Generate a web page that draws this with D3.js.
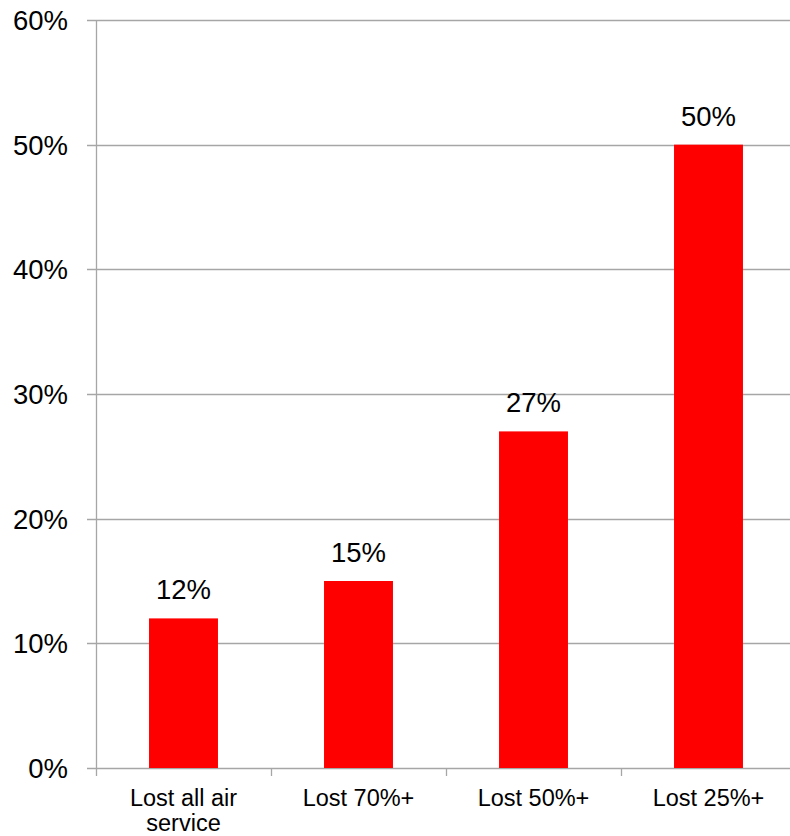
<!DOCTYPE html>
<html>
<head>
<meta charset="utf-8">
<script src="https://cdn.jsdelivr.net/npm/d3@7"></script>
<style>
  html, body { margin: 0; padding: 0; background: #fff; }
  svg { display: block; font-family: "Liberation Sans", Arial, sans-serif; }
</style>
</head>
<body>
<svg id="chart" width="790" height="836"></svg>
<script>
const categories = [["Lost all air", "service"], ["Lost 70%+"], ["Lost 50%+"], ["Lost 25%+"]];
const values = [12, 15, 27, 50];
const yTicks = [0, 10, 20, 30, 40, 50, 60];

const svg = d3.select("#chart");
const margin = { left: 96, top: 20, right: -6, bottom: 68 };
const W = 790, H = 836;
const plotRight = W - margin.right;
const plotBottom = H - margin.bottom;

const x = d3.scaleBand()
  .domain(categories.map((d, i) => i))
  .range([margin.left, plotRight])
  .paddingInner(0.606)
  .paddingOuter(0.303);

const y = d3.scaleLinear().domain([0, 60]).range([plotBottom, margin.top]);

// gridlines
svg.append("g")
  .selectAll("line")
  .data(yTicks)
  .join("line")
  .attr("x1", margin.left - 9)
  .attr("x2", plotRight)
  .attr("y1", d => Math.round(y(d)) + 0.5)
  .attr("y2", d => Math.round(y(d)) + 0.5)
  .attr("stroke", "#a6a6a6")
  .attr("stroke-width", 1.3);

// y axis line
svg.append("line")
  .attr("x1", margin.left + 0.5).attr("x2", margin.left + 0.5)
  .attr("y1", margin.top).attr("y2", plotBottom + 8)
  .attr("stroke", "#a6a6a6").attr("stroke-width", 1.3);

// x category tick marks
const step = (plotRight - margin.left) / categories.length;
svg.append("g")
  .selectAll("line")
  .data(d3.range(1, categories.length))
  .join("line")
  .attr("x1", i => Math.round(margin.left + i * step) + 0.5)
  .attr("x2", i => Math.round(margin.left + i * step) + 0.5)
  .attr("y1", plotBottom)
  .attr("y2", plotBottom + 8)
  .attr("stroke", "#a6a6a6").attr("stroke-width", 1.3);

// y labels
svg.append("g")
  .selectAll("text")
  .data(yTicks)
  .join("text")
  .attr("x", 68)
  .attr("y", d => y(d))
  .attr("dy", "0.36em")
  .attr("text-anchor", "end")
  .attr("font-size", 27.5)
  .attr("fill", "#000")
  .text(d => d + "%");

// bars
svg.append("g")
  .selectAll("rect")
  .data(values)
  .join("rect")
  .attr("x", (d, i) => x(i))
  .attr("width", x.bandwidth())
  .attr("y", d => y(d))
  .attr("height", d => plotBottom - y(d))
  .attr("fill", "#ff0000");

// data labels
svg.append("g")
  .selectAll("text")
  .data(values)
  .join("text")
  .attr("x", (d, i) => x(i) + x.bandwidth() / 2)
  .attr("y", d => y(d) - 19)
  .attr("text-anchor", "middle")
  .attr("font-size", 27.5)
  .attr("fill", "#000")
  .text(d => d + "%");

// category labels (each line its own text element)
const catLines = [];
categories.forEach((lines, i) => lines.forEach((t, j) => catLines.push({ t, i, j })));
svg.append("g")
  .selectAll("text")
  .data(catLines)
  .join("text")
  .attr("x", d => x(d.i) + x.bandwidth() / 2)
  .attr("y", d => 806 + d.j * 25)
  .attr("text-anchor", "middle")
  .attr("font-size", 23.5)
  .attr("fill", "#000")
  .text(d => d.t);
</script>
</body>
</html>
